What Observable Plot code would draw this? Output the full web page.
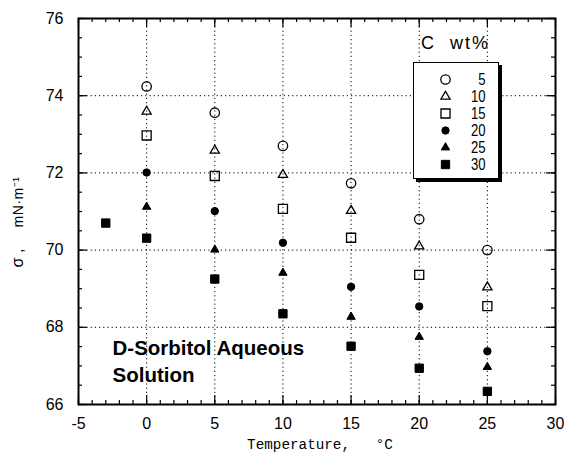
<!DOCTYPE html>
<html>
<head>
<meta charset="utf-8">
<script src="https://cdn.jsdelivr.net/npm/d3@7"></script>
<script src="https://cdn.jsdelivr.net/npm/@observablehq/plot@0.6"></script>
<style>
  html, body { margin: 0; padding: 0; background: #fff; }
  #wrap { position: relative; width: 564px; height: 458px; overflow: hidden; background: #fff; }
  #legend { position: absolute; left: 413px; top: 62px; width: 86px; height: 117px; box-sizing: border-box;
            border: 1.5px solid #000; box-shadow: 3px 3px 0 #000; background: #fff; }
  #legtitle { position: absolute; left: 421px; top: 33px; font: 18px "Liberation Sans", Arial, sans-serif; letter-spacing: 2px; white-space: pre; color: #000; }
  .ylab { position: absolute; left: 18px; transform: translate(-50%, -50%) rotate(-90deg); white-space: pre;
          font-family: "Liberation Sans", Arial, sans-serif; color: #000; line-height: 1; }
</style>
</head>
<body>
<div id="wrap"></div>
<script>
// ---- data ----
const temps = [0, 5, 10, 15, 20, 25];
const concentrations = [5, 10, 15, 20, 25, 30];
const sigma_5  = [74.24, 73.56, 72.70, 71.73, 70.80, 70.00];
const sigma_10 = [73.59, 72.58, 71.95, 71.02, 70.10, 69.04];
const sigma_15 = [72.97, 71.92, 71.07, 70.32, 69.36, 68.55];
const sigma_20 = [72.01, 71.01, 70.19, 69.05, 68.54, 67.38];
const sigma_25 = [71.12, 70.01, 69.41, 68.27, 67.75, 66.97];
const sigma_30 = [70.31, 69.25, 68.35, 67.51, 66.94, 66.34];
const extraTemp = [-3];
const extraSigma = [70.70];
const xTickLabels = [-5, 0, 5, 10, 15, 20, 25, 30];
const yTickLabels = [66, 68, 70, 72, 74, 76];
const legendTitle = "C  wt%";
const xLabel = "Temperature,   °C";
const yLabelUnit = "mN·m⁻¹";
const yLabelSym = "σ ,";
const annotation = "D-Sorbitol Aqueous\nSolution";

// ---- styles ----
const seriesValues = [sigma_5, sigma_10, sigma_15, sigma_20, sigma_25, sigma_30];
const styles = [
  {symbol: "circle",   fill: "none",  r: 4.7, type: d3.symbolCircle},
  {symbol: "triangle", fill: "none",  r: 3.4, type: d3.symbolTriangle},
  {symbol: "square",   fill: "none",  r: 5.1, type: d3.symbolSquare},
  {symbol: "circle",   fill: "black", r: 3.7, type: d3.symbolCircle},
  {symbol: "triangle", fill: "black", r: 3.1, type: d3.symbolTriangle},
  {symbol: "square",   fill: "black", r: 4.7, type: d3.symbolSquare}
];

const W = 564, H = 458, mt = 18, mb = 54, ml = 78, mr = 9;
const fh = H - mt - mb, fw = W - ml - mr;
const xMinor = d3.range(-5, 30.001, 1);
const yMinor = d3.range(66, 76.001, 0.5);
const xGrid = xTickLabels.slice(1, -1);
const yGrid = yTickLabels.slice(1, -1);

const rowsFor = (i) => seriesValues[i].map((v, j) => ({t: temps[j], sigma: v, c: concentrations[i]}));
const extraRows = extraTemp.map((t, j) => ({t, sigma: extraSigma[j], c: 30}));

const dotMarks = concentrations.map((c, i) => Plot.dot(i === 5 ? rowsFor(i).concat(extraRows) : rowsFor(i), {
  x: "t", y: "sigma", symbol: styles[i].symbol, r: styles[i].r,
  fill: styles[i].fill, stroke: "black", strokeWidth: styles[i].fill === "none" ? 1.3 : 1
}));

const grid = {stroke: "black", strokeWidth: 1, strokeDasharray: "1.2,3", strokeOpacity: 1};
const tick = {stroke: "black", strokeWidth: 1.2};

const chart = Plot.plot({
  width: W, height: H,
  marginTop: mt, marginBottom: mb, marginLeft: ml, marginRight: mr,
  style: {background: "#fff", color: "#000", fontFamily: "'Liberation Sans', Arial, sans-serif", fontSize: "16px"},
  x: {domain: [-5, 30]},
  y: {domain: [66, 76]},
  marks: [
    Plot.ruleX(xGrid, grid),
    Plot.ruleY(yGrid, grid),
    Plot.ruleX(xMinor, {...tick, insetTop: fh - 4}),
    Plot.ruleX(xMinor, {...tick, insetBottom: fh - 4}),
    Plot.ruleX(xTickLabels, {...tick, insetTop: fh - 9}),
    Plot.ruleX(xTickLabels, {...tick, insetBottom: fh - 9}),
    Plot.ruleY(yMinor, {...tick, insetRight: fw - 4}),
    Plot.ruleY(yMinor, {...tick, insetLeft: fw - 4}),
    Plot.ruleY(yTickLabels, {...tick, insetRight: fw - 9}),
    Plot.ruleY(yTickLabels, {...tick, insetLeft: fw - 9}),
    Plot.axisX(xTickLabels, {anchor: "bottom", tickSize: 0, tickPadding: 13, fontSize: 16, label: null, tickFormat: d => String(d)}),
    Plot.axisY(yTickLabels, {anchor: "left", tickSize: 0, tickPadding: 15, fontSize: 16, label: null, tickFormat: d => String(d)}),
    Plot.frame({stroke: "black", strokeWidth: 2}),
    ...dotMarks,
    Plot.text([annotation], {frameAnchor: "bottom-left", textAnchor: "start", lineAnchor: "bottom",
      dx: 34, dy: -23, lineHeight: 1.3, fontSize: 20.5, fontWeight: "bold", fill: "black",
      style: {letterSpacing: "0.4px"}}),
    Plot.text([xLabel], {frameAnchor: "bottom", dy: 44, dx: 3, fontSize: 14.3,
      fontFamily: "'Liberation Mono', 'DejaVu Sans Mono', monospace", fill: "black"})
  ]
});

const wrap = document.getElementById("wrap");
wrap.appendChild(chart);

// ---- y axis label ----
const yl1 = document.createElement("div");
yl1.className = "ylab"; yl1.style.top = "202px"; yl1.style.fontSize = "14px"; yl1.style.letterSpacing = "0.5px";
yl1.textContent = yLabelUnit;
wrap.appendChild(yl1);
const yl2 = document.createElement("div");
yl2.className = "ylab"; yl2.style.top = "258px"; yl2.style.fontSize = "16px";
yl2.textContent = yLabelSym;
wrap.appendChild(yl2);

// ---- legend ----
const tdiv = document.createElement("div");
tdiv.id = "legtitle";
tdiv.textContent = legendTitle;
wrap.appendChild(tdiv);

const leg = document.createElement("div");
leg.id = "legend";
wrap.appendChild(leg);
const lsvg = d3.select(leg).append("svg").attr("width", 83).attr("height", 114)
  .style("position", "absolute").style("left", "0px").style("top", "0px");
concentrations.forEach((c, i) => {
  const cy = 16.5 + i * 17;
  lsvg.append("path")
    .attr("transform", `translate(31.5,${cy})`)
    .attr("d", d3.symbol(styles[i].type, Math.PI * styles[i].r * styles[i].r)())
    .attr("fill", styles[i].fill).attr("stroke", "black")
    .attr("stroke-width", styles[i].fill === "none" ? 1.3 : 1);
  lsvg.append("text")
    .attr("transform", `translate(71.5,${cy}) scale(0.82,1)`)
    .attr("dy", "0.35em")
    .attr("text-anchor", "end")
    .style("font", "16px 'Liberation Sans', Arial, sans-serif")
    .text(c);
});
</script>
</body>
</html>
